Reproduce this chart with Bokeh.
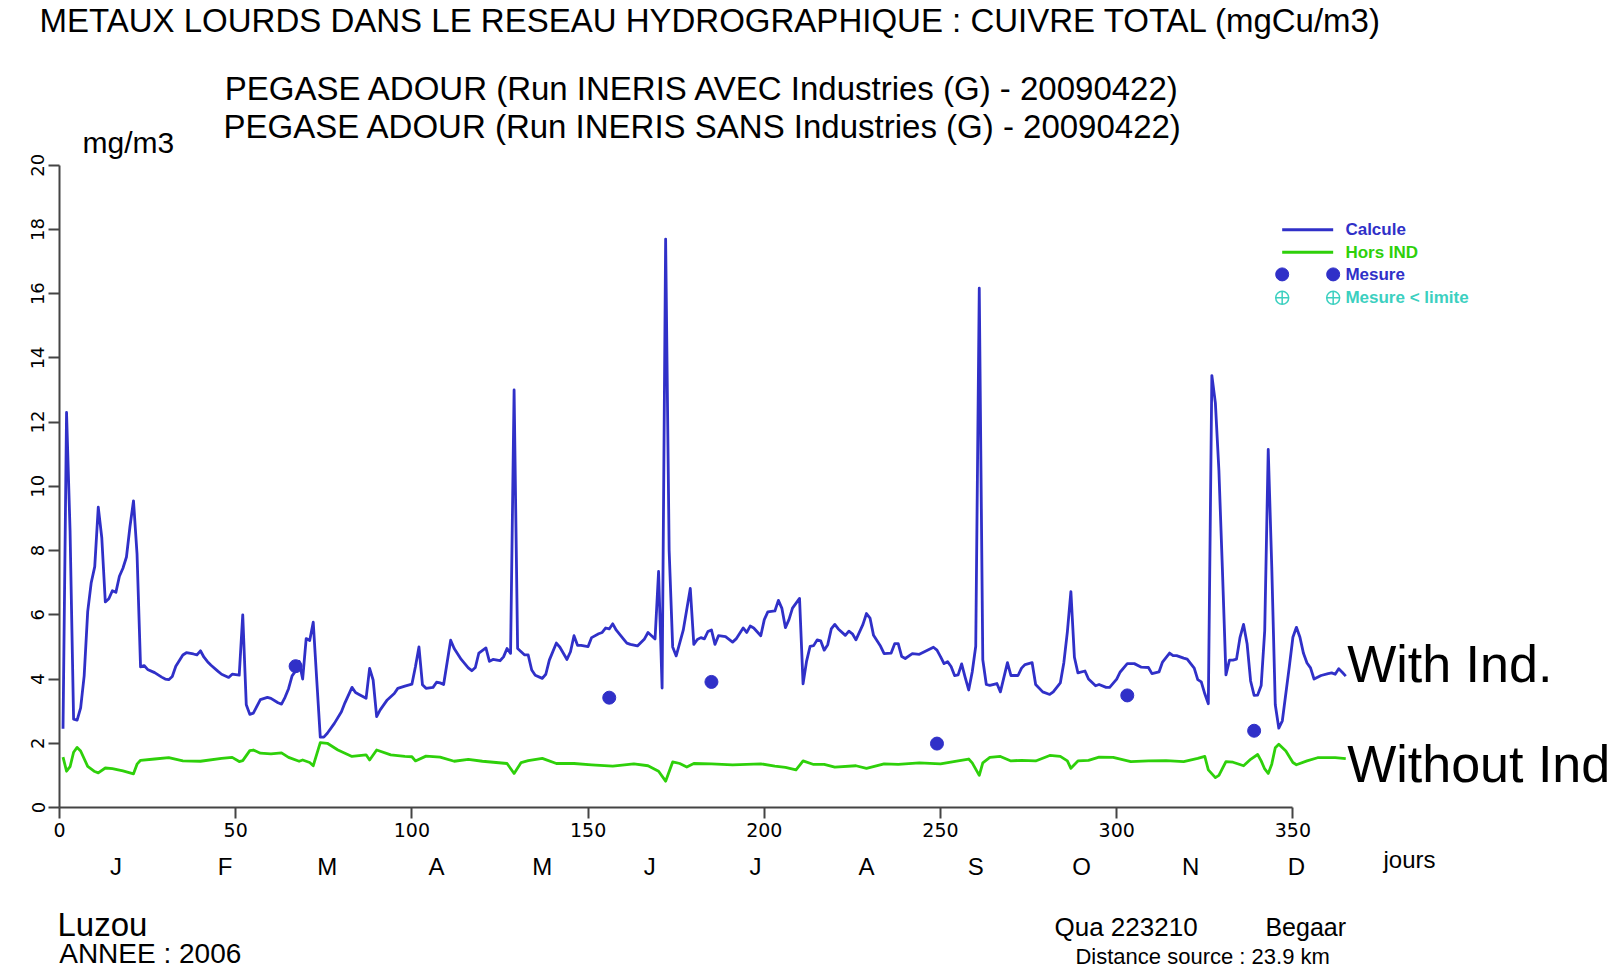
from bokeh.plotting import figure
from bokeh.layouts import column
from bokeh.models import ColumnDataSource, Range1d, FixedTicker, Label
from bokeh.embed import file_html
from bokeh.resources import INLINE

# ---------------- data ----------------
calc_days = [1, 2, 3, 4, 5, 6, 7, 8, 9, 10, 11, 12, 13, 14, 15, 16, 17, 18, 19, 20,
             21, 22, 23, 24, 25, 27, 29, 30, 31, 32, 33, 35, 36, 38, 39, 40, 41, 42, 43, 45,
             46, 48, 49, 51, 52, 53, 54, 55, 57, 59, 60, 62, 63, 64, 65, 66, 67, 68, 69, 70,
             71, 72, 73, 74, 75, 76, 78, 80, 81, 83, 84, 85, 87, 88, 89, 90, 91, 93, 95, 96,
             98, 100, 101, 102, 103, 104, 106, 107, 108, 109, 111, 112, 114, 116, 117, 118, 119, 121, 122, 123,
             125, 126, 127, 128, 129, 130, 131, 132, 133, 134, 135, 137, 138, 139, 141, 142, 144, 145, 146, 147,
             148, 150, 151, 153, 154, 155, 156, 157, 158, 160, 161, 162, 164, 166, 167, 168, 169, 170, 171, 172,
             173, 174, 175, 177, 179, 180, 181, 182, 183, 184, 185, 186, 187, 189, 191, 192, 194, 195, 196, 197,
             199, 200, 201, 203, 204, 205, 206, 207, 208, 210, 211, 212, 213, 214, 215, 216, 217, 218, 219, 220,
             221, 223, 224, 225, 226, 228, 229, 230, 231, 233, 234, 236, 237, 238, 239, 240, 242, 244, 246, 248,
             249, 250, 251, 252, 253, 254, 255, 256, 257, 258, 259, 260, 261, 262, 263, 264, 266, 267, 269, 270,
             272, 273, 274, 276, 277, 279, 281, 282, 284, 285, 286, 287, 288, 289, 291, 292, 294, 295, 297, 298,
             300, 301, 303, 305, 307, 309, 310, 312, 313, 315, 316, 317, 319, 320, 322, 323, 324, 325, 326, 327,
             328, 329, 330, 331, 332, 333, 334, 335, 336, 337, 338, 339, 340, 341, 342, 343, 344, 345, 346, 347,
             349, 350, 351, 352, 353, 354, 355, 356, 358, 360, 361, 362, 363, 364, 365]
calc_vals = [2.45, 12.3, 8.6, 2.75, 2.72, 3.1, 4.1, 6.1, 7.0, 7.5, 9.35, 8.4, 6.4, 6.5, 6.75, 6.7, 7.2, 7.45, 7.8, 8.75,
             9.55, 7.9, 4.38, 4.42, 4.3, 4.2, 4.06, 4.0, 3.98, 4.08, 4.4, 4.75, 4.82, 4.78, 4.75, 4.88, 4.68, 4.54, 4.43, 4.24,
             4.15, 4.05, 4.15, 4.12, 6.0, 3.2, 2.9, 2.94, 3.36, 3.43, 3.4, 3.26, 3.22, 3.43, 3.7, 4.1, 4.25, 4.55, 4.0, 5.26,
             5.2, 5.77, 3.97, 2.19, 2.19, 2.31, 2.62, 2.98, 3.26, 3.74, 3.58, 3.52, 3.4, 4.33, 3.97, 2.83, 3.04, 3.35, 3.55, 3.71,
             3.78, 3.84, 4.38, 5.0, 3.82, 3.71, 3.74, 3.9, 3.88, 3.83, 5.21, 4.95, 4.61, 4.35, 4.26, 4.36, 4.81, 4.97, 4.55, 4.61,
             4.57, 4.69, 4.95, 4.8, 13.0, 4.95, 4.85, 4.75, 4.75, 4.28, 4.12, 4.02, 4.15, 4.59, 5.12, 4.99, 4.61, 4.85, 5.35, 5.05,
             5.05, 5.01, 5.29, 5.41, 5.45, 5.59, 5.56, 5.72, 5.52, 5.25, 5.12, 5.08, 5.03, 5.25, 5.45, 5.35, 5.25, 7.35, 3.72, 17.7,
             8.0, 5.0, 4.72, 5.52, 6.82, 5.08, 5.23, 5.29, 5.25, 5.48, 5.53, 5.08, 5.35, 5.32, 5.15, 5.25, 5.59, 5.45, 5.65, 5.59,
             5.35, 5.85, 6.09, 6.12, 6.45, 6.2, 5.6, 5.85, 6.21, 6.51, 3.85, 4.56, 5.02, 5.04, 5.22, 5.19, 4.9, 5.07, 5.56, 5.7,
             5.56, 5.36, 5.49, 5.41, 5.22, 5.7, 6.04, 5.9, 5.36, 5.02, 4.79, 4.81, 5.1, 5.1, 4.7, 4.64, 4.79, 4.77, 4.88, 4.99,
             4.9, 4.7, 4.48, 4.54, 4.39, 4.11, 4.13, 4.47, 4.05, 3.66, 4.22, 5.02, 16.17, 4.6, 3.83, 3.8, 3.86, 3.6, 4.51, 4.11,
             4.11, 4.34, 4.45, 4.51, 3.83, 3.6, 3.52, 3.6, 3.88, 4.51, 5.47, 6.72, 4.68, 4.19, 4.25, 4.0, 3.79, 3.83, 3.74, 3.74,
             4.0, 4.22, 4.48, 4.48, 4.37, 4.36, 4.17, 4.22, 4.53, 4.81, 4.73, 4.73, 4.65, 4.62, 4.34, 3.98, 3.91, 3.54, 3.23, 13.45,
             12.6, 10.5, 7.4, 4.13, 4.59, 4.59, 4.62, 5.3, 5.7, 5.1, 3.94, 3.49, 3.5, 3.8, 5.5, 11.15, 7.5, 3.2, 2.47, 2.7,
             4.4, 5.3, 5.61, 5.3, 4.8, 4.5, 4.35, 4.0, 4.11, 4.17, 4.19, 4.15, 4.32, 4.21, 4.09]

hors_days = [1, 2, 3, 4, 5, 6, 8, 10, 11, 13, 15, 18, 20, 21, 22, 23, 27, 31, 35, 40,
             46, 49, 51, 52, 54, 55, 57, 60, 63, 65, 68, 69, 71, 72, 74, 76, 79, 83, 87, 88,
             90, 94, 98, 100, 101, 104, 108, 112, 116, 120, 127, 129, 131, 133, 137, 141, 146, 151, 157, 163,
             167, 170, 172, 174, 176, 178, 180, 185, 191, 199, 203, 206, 209, 211, 214, 217, 220, 226, 229, 234,
             238, 244, 250, 255, 258, 259, 261, 262, 264, 267, 270, 273, 277, 281, 284, 286, 287, 289, 292, 295,
             299, 304, 309, 314, 319, 323, 325, 326, 328, 329, 331, 333, 336, 338, 340, 341, 342, 343, 344, 345,
             346, 348, 350, 351, 354, 357, 362, 365]
hors_vals = [1.57, 1.13, 1.27, 1.72, 1.87, 1.76, 1.28, 1.12, 1.08, 1.23, 1.21, 1.14, 1.08, 1.05, 1.35, 1.47, 1.51, 1.55, 1.45, 1.44,
             1.53, 1.56, 1.43, 1.46, 1.77, 1.79, 1.69, 1.67, 1.70, 1.56, 1.44, 1.48, 1.4, 1.3, 2.02, 2.0, 1.79, 1.59, 1.64, 1.48,
             1.79, 1.64, 1.59, 1.58, 1.45, 1.6, 1.57, 1.44, 1.5, 1.44, 1.37, 1.06, 1.4, 1.46, 1.53, 1.37, 1.37, 1.33, 1.29, 1.36,
             1.3, 1.13, 0.82, 1.42, 1.37, 1.26, 1.37, 1.36, 1.33, 1.36, 1.29, 1.25, 1.17, 1.45, 1.34, 1.34, 1.26, 1.3, 1.22, 1.36,
             1.34, 1.39, 1.36, 1.45, 1.51, 1.39, 1.0, 1.39, 1.56, 1.59, 1.45, 1.47, 1.45, 1.62, 1.59, 1.45, 1.22, 1.45, 1.47, 1.57,
             1.56, 1.43, 1.45, 1.46, 1.43, 1.53, 1.59, 1.17, 0.93, 1.0, 1.43, 1.41, 1.3, 1.5, 1.65, 1.45, 1.2, 1.06, 1.35, 1.86,
             1.97, 1.76, 1.4, 1.33, 1.45, 1.55, 1.55, 1.52]

mes_days = [67, 156, 185, 249, 303, 339]
mes_vals = [4.40, 3.42, 3.91, 1.99, 3.49, 2.39]

x_ticks = [0, 50, 100, 150, 200, 250, 300, 350]
y_ticks = [0, 2, 4, 6, 8, 10, 12, 14, 16, 18, 20]
month_labels = ["J", "F", "M", "A", "M", "J", "J", "A", "S", "O", "N", "D"]
month_pos = [16, 47, 76, 107, 137, 167.5, 197.5, 229, 260, 290, 321, 351]

legend_labels = ["Calcule", "Hors IND", "Mesure", "Mesure < limite"]

# ---------------- styling / layout constants ----------------
BLUE = "#3030c8"
GREEN = "#2ed00a"
TURQ = "#3cd0c0"
SANS = "Liberation Sans"
PAGE_W = 1614
LEFT = 59                 # pixel position of day 0
PX_DAY = 3.524            # pixels per day
PX_UNIT = 32.115          # pixels per mg/m3
TOP_H, MAIN_H = 46, 799
BOT_H = 970 - TOP_H - MAIN_H
X_END = (PAGE_W - LEFT) / PX_DAY
STRIP_X = (-LEFT / PX_DAY, X_END)
LW = 2.8


def add_text(fig, x, y, text, size, align="left", style="normal", color="black"):
    fig.add_layout(Label(x=x, y=y, text=text, text_font=SANS, text_font_size=size,
                         text_font_style=style, text_align=align, text_baseline="middle",
                         text_color=color))


def text_strip(height):
    f = figure(width=PAGE_W, height=height, output_backend="svg", toolbar_location=None,
               x_range=Range1d(*STRIP_X), y_range=Range1d(height, 0),
               x_axis_type=None, y_axis_type=None, frame_align=False,
               min_border_left=0, min_border_right=0, min_border_top=0, min_border_bottom=0)
    f.xgrid.visible = False
    f.ygrid.visible = False
    f.outline_line_color = None
    return f


# ---------------- top strip: main title ----------------
top = text_strip(TOP_H)
add_text(top, -5.675, 20, "METAUX LOURDS DANS LE RESEAU HYDROGRAPHIQUE : CUIVRE TOTAL (mgCu/m3)", "33px")

# ---------------- main chart ----------------
frame_h = MAIN_H - 38
p = figure(width=PAGE_W, height=MAIN_H, output_backend="svg", toolbar_location=None,
           x_range=Range1d(0, X_END), y_range=Range1d(0, frame_h / PX_UNIT), frame_align=False,
           min_border_left=LEFT, min_border_right=0, min_border_top=0, min_border_bottom=38)
p.xgrid.visible = False
p.ygrid.visible = False
p.outline_line_color = None

for ax, ticks, bnds in ((p.xaxis[0], x_ticks, (0, 350)), (p.yaxis[0], y_ticks, (0, 20))):
    ax.ticker = FixedTicker(ticks=ticks)
    ax.bounds = bnds
    ax.minor_tick_line_color = None
    ax.major_tick_out = 11
    ax.major_tick_in = 0
    ax.axis_line_width = 2
    ax.axis_line_color = "#444444"
    ax.major_tick_line_width = 2
    ax.major_tick_line_color = "#444444"
    ax.major_label_text_font = "DejaVu Sans"
    ax.major_label_text_color = "black"
    ax.major_label_standoff = 4
p.xaxis[0].major_label_text_font_size = "19px"
p.yaxis[0].major_label_text_font_size = "18px"
p.yaxis[0].major_label_orientation = "vertical"

src_calc = ColumnDataSource(dict(x=calc_days, y=calc_vals))
src_hors = ColumnDataSource(dict(x=hors_days, y=hors_vals))
src_mes = ColumnDataSource(dict(x=mes_days, y=mes_vals))

p.line("x", "y", source=src_hors, line_color=GREEN, line_width=LW, line_join="round")
p.line("x", "y", source=src_calc, line_color=BLUE, line_width=LW, line_join="round")
p.scatter("x", "y", source=src_mes, marker="circle", size=13, fill_color=BLUE, line_color=BLUE)

# legend drawn like the original R legend (two symbols per row)
lg_x0, lg_x1, lg_tx = 346.96, 361.43, 364.9
lg_rows = [17.99, 17.29, 16.60, 15.87]
lg_colors = [BLUE, GREEN, BLUE, TURQ]
p.segment(x0=[lg_x0, lg_x0], y0=lg_rows[:2], x1=[lg_x1, lg_x1], y1=lg_rows[:2],
          line_color=lg_colors[:2], line_width=LW)
p.scatter(x=[lg_x0, lg_x1], y=[lg_rows[2]] * 2, marker="circle", size=13,
          fill_color=BLUE, line_color=BLUE)
p.scatter(x=[lg_x0, lg_x1], y=[lg_rows[3]] * 2, marker="circle_cross", size=13,
          fill_color=None, line_color=TURQ, line_width=1.5)
for txt, yy, col in zip(legend_labels, lg_rows, lg_colors):
    add_text(p, lg_tx, yy, txt, "17px", style="bold", color=col)

add_text(p, 182.63, 22.39, "PEGASE ADOUR (Run INERIS AVEC Industries (G) - 20090422)", "33px", align="center")
add_text(p, 182.63, 21.21, "PEGASE ADOUR (Run INERIS SANS Industries (G) - 20090422)", "33px", align="center")
add_text(p, 6.53, 20.71, "mg/m3", "30px")
add_text(p, 365.4, 4.453, "With Ind.", "52px")
add_text(p, 365.4, 1.370, "Without Ind", "52px")

# ---------------- bottom strip: months, unit, station info ----------------
bot = text_strip(BOT_H)
for mx, ml in zip(month_pos, month_labels):
    add_text(bot, mx, 20.5, ml, "24px", align="center")
add_text(bot, 375.7, 14, "jours", "24px")
add_text(bot, -0.57, 79, "Luzou", "33px")
add_text(bot, -0.085, 108, "ANNEE : 2006", "28px")
add_text(bot, 282.35, 81, "Qua 223210", "26px")
add_text(bot, 342.2, 81, "Begaar", "25px")
add_text(bot, 288.3, 111, "Distance source :  23.9 km", "22px")

layout = column(top, p, bot, spacing=0)
open("out.html", "w").write(file_html(layout, INLINE))
